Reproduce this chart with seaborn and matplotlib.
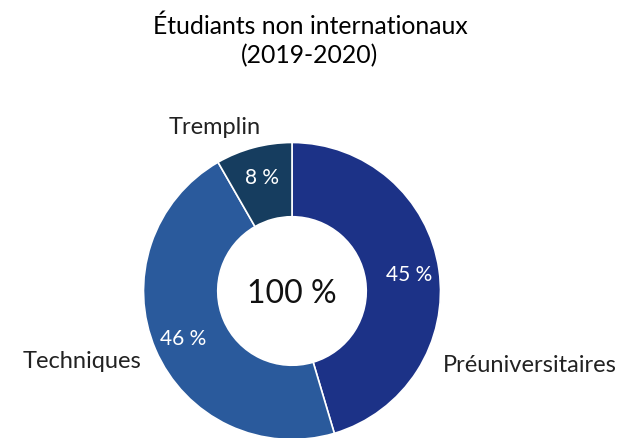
import matplotlib
matplotlib.use("Agg")
import matplotlib.pyplot as plt
import seaborn as sns

categories = ["Préuniversitaires", "Techniques", "Tremplin"]
values = [45.4, 46.3, 8.3]
colors = ["#1c3287", "#2a5a9c", "#163d5f"]
title = "Étudiants non internationaux\n(2019-2020)"
center_text = "100 %"

sns.set_theme(style="white")
plt.rcParams["font.family"] = ["Lato", "DejaVu Sans"]

W, H = 639, 439
fig = plt.figure(figsize=(W / 100, H / 100), dpi=100)
ax = fig.add_axes([0, 0, 1, 1])

cx, cy, R = 292, H - 292, 148.5
wedges, texts, autotexts = ax.pie(
    values, colors=colors, startangle=90, counterclock=False,
    center=(cx, cy), radius=R, autopct="%.0f %%", pctdistance=0.795,
    wedgeprops=dict(width=R * 0.5, edgecolor="white", linewidth=1.2),
    textprops=dict(color="white", fontsize=15),
)
ax.set_xlim(0, W)
ax.set_ylim(0, H)
ax.set_aspect("equal")
ax.axis("off")

ax.text(cx, cy - 2, center_text, ha="center", va="center", fontsize=23,
        color="#111111")

label_pos = {"Préuniversitaires": (530, H - 366),
             "Techniques": (82, H - 362),
             "Tremplin": (215, H - 128)}
for c in categories:
    x, y = label_pos[c]
    ax.text(x, y, c, ha="center", va="center", fontsize=17,
            color="#222222")

fig.text(310 / W, 1 - 41 / H, title, ha="center", va="center",
         fontsize=17.8, color="black", linespacing=1.3)

fig.savefig("out.png", dpi=100)
